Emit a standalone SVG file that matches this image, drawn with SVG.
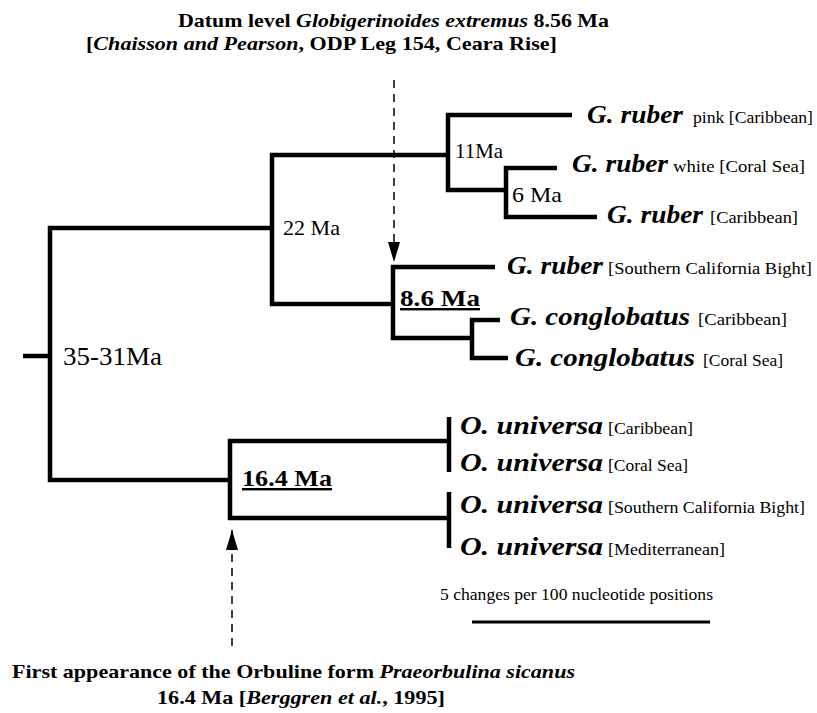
<svg xmlns="http://www.w3.org/2000/svg" width="817" height="713" viewBox="0 0 817 713">
<style>
.br{stroke:#000;stroke-width:4.5;fill:none;stroke-linejoin:miter;stroke-linecap:butt}
.dash{stroke:#000;stroke-width:1.5;fill:none;stroke-dasharray:8 6}
.t{font-family:"Liberation Serif","Times New Roman",serif;fill:#000}
.b{font-weight:bold}
.i{font-style:italic}
.sp{font-family:"Liberation Serif","Times New Roman",serif;font-weight:bold;font-style:italic;font-size:26px;fill:#000}
.loc{font-family:"Liberation Serif","Times New Roman",serif;font-size:16px;fill:#000}
.age{font-family:"Liberation Serif","Times New Roman",serif;font-size:22px;fill:#000}
.agb{font-family:"Liberation Serif","Times New Roman",serif;font-size:24px;font-weight:bold;fill:#000;text-decoration:underline}
</style>
<defs>
<marker id="arr" viewBox="0 0 20 12" refX="20" refY="6" markerWidth="20" markerHeight="12" markerUnits="userSpaceOnUse" orient="auto">
<path d="M0,0 L20,6 L0,12 z" fill="#000"/>
</marker>
</defs>
<rect width="817" height="713" fill="#fff"/>

<g id="title-top">
<text class="t b" x="178" y="27" font-size="19" textLength="431" lengthAdjust="spacingAndGlyphs">Datum level <tspan class="i">Globigerinoides extremus</tspan>  8.56 Ma</text>
<text class="t b" x="86" y="50" font-size="19" textLength="471" lengthAdjust="spacingAndGlyphs">[<tspan class="i">Chaisson and Pearson</tspan>, ODP Leg 154, Ceara Rise]</text>
</g>

<g id="connectors">
<path class="br" d="M23,356 H50"/>
<path class="br" d="M272,228 H50 V480 H230"/>
<path class="br" d="M448,155 H272 V304 H393"/>
<path class="br" d="M572,115 H448 V190 H506"/>
<path class="br" d="M557,168 H506 V217 H597"/>
<path class="br" d="M495,267 H393 V338 H472"/>
<path class="br" d="M500,320 H472 V358 H508"/>
<path class="br" d="M449,441 H230 V518 H449"/>
<path class="br" d="M449,417 V472"/>
<path class="br" d="M449,492 V548"/>
<path class="dash" d="M394,80 V262" marker-end="url(#arr)"/>
<path class="dash" d="M232,646 V530" marker-end="url(#arr)"/>
</g>

<g id="node-root"><text class="t" x="63" y="365" font-size="26" textLength="99" lengthAdjust="spacingAndGlyphs">35-31Ma</text></g>
<g id="node-22ma"><text class="age" x="283" y="235" textLength="57" lengthAdjust="spacingAndGlyphs">22 Ma</text></g>
<g id="node-11ma"><text class="age" x="455" y="158" textLength="48" lengthAdjust="spacingAndGlyphs">11Ma</text></g>
<g id="node-6ma"><text class="age" x="512" y="202" textLength="50" lengthAdjust="spacingAndGlyphs">6 Ma</text></g>
<g id="node-8-6ma"><text class="agb" x="400" y="306" textLength="80" lengthAdjust="spacingAndGlyphs">8.6 Ma</text></g>
<g id="node-16-4ma"><text class="agb" x="242" y="486" textLength="90" lengthAdjust="spacingAndGlyphs">16.4 Ma</text></g>

<g id="taxon-ruber-pink">
<text class="sp" x="587" y="123" textLength="96" lengthAdjust="spacingAndGlyphs">G. ruber</text>
<text class="loc" x="693" y="123" textLength="120" lengthAdjust="spacingAndGlyphs">pink [Caribbean]</text>
</g>
<g id="taxon-ruber-white">
<text class="sp" x="572" y="172" textLength="96" lengthAdjust="spacingAndGlyphs">G. ruber</text>
<text class="loc" x="673" y="172" textLength="132" lengthAdjust="spacingAndGlyphs">white [Coral Sea]</text>
</g>
<g id="taxon-ruber-caribbean">
<text class="sp" x="607" y="223" textLength="96" lengthAdjust="spacingAndGlyphs">G. ruber</text>
<text class="loc" x="710" y="223" textLength="88" lengthAdjust="spacingAndGlyphs">[Caribbean]</text>
</g>
<g id="taxon-ruber-scb">
<text class="sp" x="507" y="274" textLength="96" lengthAdjust="spacingAndGlyphs">G. ruber</text>
<text class="loc" x="608" y="274" textLength="204" lengthAdjust="spacingAndGlyphs">[Southern California Bight]</text>
</g>
<g id="taxon-conglobatus-caribbean">
<text class="sp" x="510" y="325" textLength="180" lengthAdjust="spacingAndGlyphs">G. conglobatus</text>
<text class="loc" x="698" y="325" textLength="89" lengthAdjust="spacingAndGlyphs">[Caribbean]</text>
</g>
<g id="taxon-conglobatus-coral">
<text class="sp" x="515" y="366" textLength="180" lengthAdjust="spacingAndGlyphs">G. conglobatus</text>
<text class="loc" x="703" y="366" textLength="80" lengthAdjust="spacingAndGlyphs">[Coral Sea]</text>
</g>
<g id="taxon-universa-caribbean">
<text class="sp" x="460" y="434" textLength="143" lengthAdjust="spacingAndGlyphs">O. universa</text>
<text class="loc" x="608" y="434" textLength="85" lengthAdjust="spacingAndGlyphs">[Caribbean]</text>
</g>
<g id="taxon-universa-coral">
<text class="sp" x="460" y="471" textLength="143" lengthAdjust="spacingAndGlyphs">O. universa</text>
<text class="loc" x="608" y="471" textLength="80" lengthAdjust="spacingAndGlyphs">[Coral Sea]</text>
</g>
<g id="taxon-universa-scb">
<text class="sp" x="460" y="513" textLength="143" lengthAdjust="spacingAndGlyphs">O. universa</text>
<text class="loc" x="608" y="513" textLength="197" lengthAdjust="spacingAndGlyphs">[Southern California Bight]</text>
</g>
<g id="taxon-universa-med">
<text class="sp" x="460" y="555" textLength="143" lengthAdjust="spacingAndGlyphs">O. universa</text>
<text class="loc" x="608" y="555" textLength="117" lengthAdjust="spacingAndGlyphs">[Mediterranean]</text>
</g>

<g id="scale-bar">
<text class="t" x="440" y="600" font-size="17" textLength="273" lengthAdjust="spacingAndGlyphs">5 changes per 100 nucleotide positions</text>
<path d="M472,622 H710" stroke="#000" stroke-width="3"/>
</g>

<g id="title-bottom">
<text class="t b" x="12" y="678" font-size="19" textLength="563" lengthAdjust="spacingAndGlyphs">First appearance of the Orbuline form <tspan class="i">Praeorbulina sicanus</tspan></text>
<text class="t b" x="157" y="704" font-size="19" textLength="288" lengthAdjust="spacingAndGlyphs">16.4 Ma [<tspan class="i">Berggren et al.</tspan>, 1995]</text>
</g>
</svg>
